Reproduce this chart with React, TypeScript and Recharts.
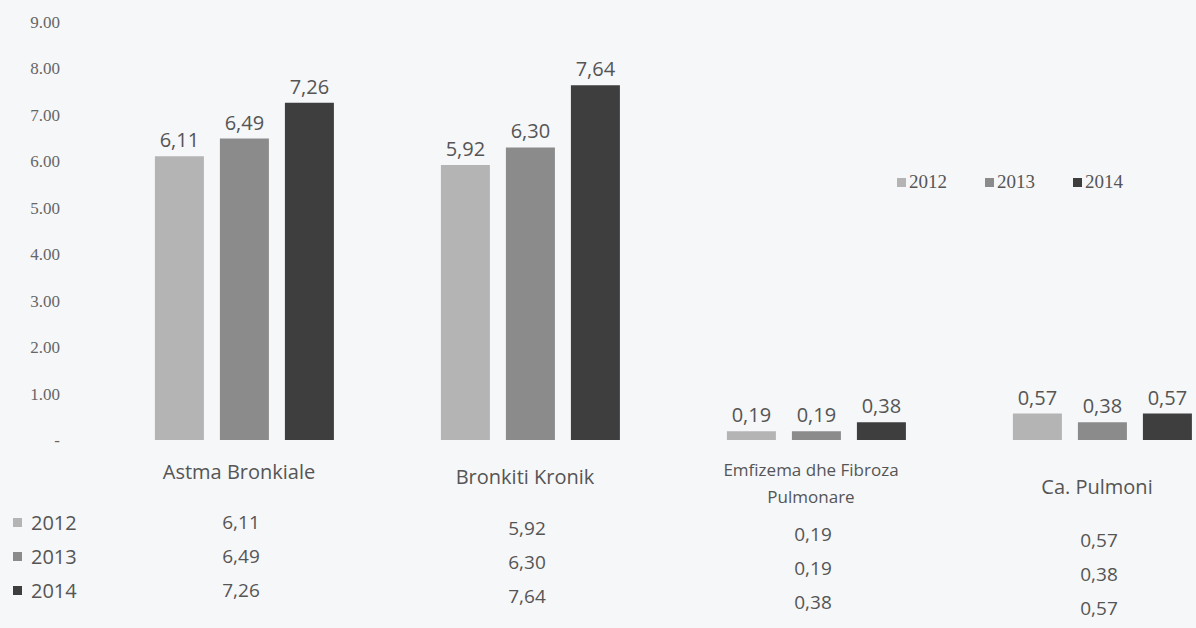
import React from 'react';
import { BarChart, Bar, XAxis, YAxis, LabelList } from 'recharts';

const categories = ['Astma Bronkiale', 'Bronkiti Kronik', 'Emfizema dhe Fibroza Pulmonare', 'Ca. Pulmoni'];
const years = ['2012', '2013', '2014'];
const values2012 = [6.11, 5.92, 0.19, 0.57];
const values2013 = [6.49, 6.3, 0.19, 0.38];
const values2014 = [7.26, 7.64, 0.38, 0.57];
const yTicks = [0, 1, 2, 3, 4, 5, 6, 7, 8, 9];

const colors = ['#b4b4b4', '#8b8b8b', '#3e3e3e'];
const textColor = '#555';
const sansFont = '"Open Sans", "Noto Sans", sans-serif';
const serifFont = '"Liberation Serif", "DejaVu Serif", serif';

const seriesValues = [values2012, values2013, values2014];

const data = categories.map((name, i) => ({
  name,
  y2012: values2012[i],
  y2013: values2013[i],
  y2014: values2014[i],
}));

const fmt = (v: number) => v.toFixed(2).replace('.', ',');

// simple word wrap for the long category names
const wrap = (text: string, max = 20) => {
  const words = text.split(' ');
  const lines: string[] = [];
  let cur = '';
  words.forEach((w) => {
    if (cur && (cur + ' ' + w).length > max) {
      lines.push(cur);
      cur = w;
    } else {
      cur = cur ? cur + ' ' + w : w;
    }
  });
  if (cur) lines.push(cur);
  return lines;
};

// category name + the data table values under it
const CategoryTick = (props: any) => {
  const { x, y, payload, index } = props;
  const lines = wrap(payload.value);
  const skew = index * 5;
  const lineH = 27;
  // wrapped labels get shrunk a bit, like the original
  const size = lines.length > 1 ? 17 : 20;
  const top = y + 31 + skew - ((lines.length - 1) * lineH) / 2;
  return (
    <g>
      {lines.map((l, i) => (
        <text key={l} x={x - 6} y={top + i * lineH} textAnchor="middle" fill={textColor} fontSize={size} fontFamily={sansFont}>
          {l}
        </text>
      ))}
      {seriesValues.map((vals, r) => (
        <text key={r} x={x - 4} y={y + 81 + index * 6 + r * 34} textAnchor="middle" fill={textColor} fontSize={19} fontFamily={sansFont}>
          {fmt(vals[index])}
        </text>
      ))}
    </g>
  );
};

export default function App() {
  return (
    <div style={{ position: 'absolute', left: 0, top: 0, width: 1196, height: 628, overflow: 'hidden', background: '#f6f7f9' }}>
      <BarChart
        width={1250}
        height={628}
        data={data}
        margin={{ top: 22, right: 4, left: 0, bottom: 0 }}
        barCategoryGap="18.5%"
        barGap={16}
      >
        <XAxis dataKey="name" axisLine={false} tickLine={false} height={188} tick={<CategoryTick />} interval={0} />
        <YAxis
          width={102}
          domain={[0, 9]}
          ticks={yTicks}
          axisLine={false}
          tickLine={false}
          tickMargin={36}
          tick={{ fill: '#666', fontSize: 17, fontFamily: serifFont }}
          tickFormatter={(v: number) => (v === 0 ? '-' : v.toFixed(2))}
        />
        {['y2012', 'y2013', 'y2014'].map((k, i) => (
          <Bar key={k} dataKey={k} name={years[i]} fill={colors[i]} isAnimationActive={false}>
            <LabelList
              dataKey={k}
              position="top"
              offset={9}
              formatter={(v: any) => fmt(Number(v))}
              fill={textColor}
              fontSize={20}
              fontFamily={sansFont}
            />
          </Bar>
        ))}
      </BarChart>
      {/* legend, top right */}
      <div style={{ position: 'absolute', left: 897, top: 171, display: 'flex', gap: 38, fontFamily: serifFont, fontSize: 19, color: textColor }}>
        {years.map((yr, i) => (
          <span key={yr} style={{ display: 'flex', alignItems: 'center', gap: 3 }}>
            <span style={{ width: 9, height: 9, background: colors[i], display: 'inline-block' }} />
            {yr}
          </span>
        ))}
      </div>
      {/* row labels of the data table */}
      <div style={{ position: 'absolute', left: 13, top: 505, fontFamily: sansFont, fontSize: 20, color: textColor }}>
        {years.map((yr, i) => (
          <div key={yr} style={{ display: 'flex', alignItems: 'center', height: 34, gap: 9 }}>
            <span style={{ width: 9, height: 9, background: colors[i], display: 'inline-block' }} />
            {yr}
          </div>
        ))}
      </div>
    </div>
  );
}
